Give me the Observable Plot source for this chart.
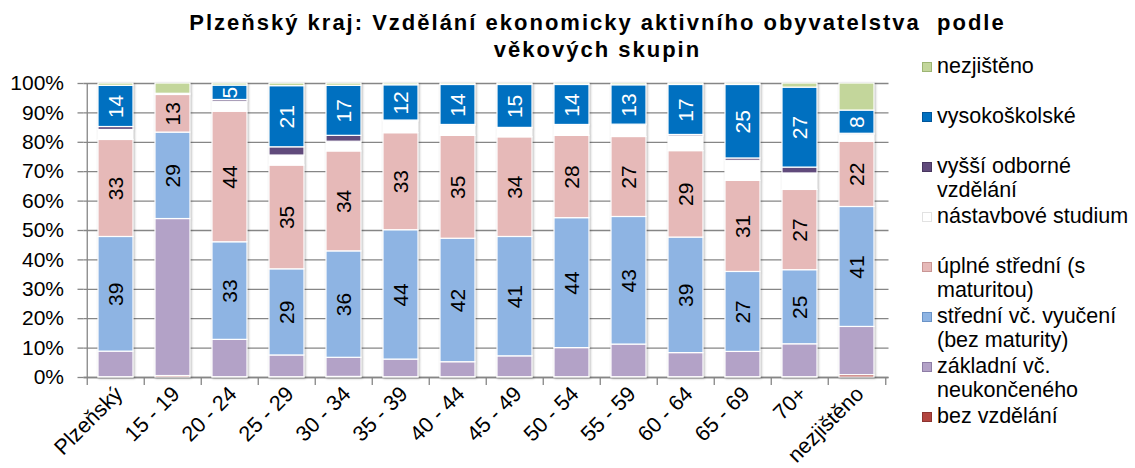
<!DOCTYPE html>
<html><head><meta charset="utf-8">
<script src="https://cdn.jsdelivr.net/npm/d3@7"></script>
<script src="https://cdn.jsdelivr.net/npm/@observablehq/plot@0.6"></script>
<style>
body{margin:0;background:#fff;font-family:"Liberation Sans",Arial,sans-serif;}
#wrap{position:relative;width:1135px;height:468px;overflow:hidden;background:#fff;}
#chart{position:absolute;left:0;top:0;}
#title{position:absolute;left:0;top:9px;width:1195px;text-align:center;font-weight:bold;font-size:22px;line-height:27px;letter-spacing:2px;color:#000;}
#legend{position:absolute;left:922px;top:0;}
.li{position:absolute;left:0;white-space:pre;font-size:21.5px;line-height:24px;color:#000;}
.sw{position:absolute;left:0;top:8px;width:8px;height:8px;border:1px solid;}
.lt{position:absolute;left:15px;top:0;}
g[aria-label="bar"]{filter:drop-shadow(1px 1px 1.2px rgba(0,0,0,0.28));}
</style>
</head><body>
<div id="wrap">
  <div id="chart"></div>
  <div id="title">Plzeňský kraj: Vzdělání ekonomicky aktivního obyvatelstva&nbsp; podle<br>věkových skupin</div>
  <div id="legend"></div>
</div>
<script>
// ---- data ----
const titleText = "Plzeňský kraj: Vzdělání ekonomicky aktivního obyvatelstva podle věkových skupin";
const categories = ["Plzeňský","15 - 19","20 - 24","25 - 29","30 - 34","35 - 39","40 - 44","45 - 49","50 - 54","55 - 59","60 - 64","65 - 69","70+","nezjištěno"];
// series, stacked bottom -> top
const seriesNames = ["bez vzdělání","základní vč. neukončeného","střední vč. vyučení (bez maturity)","úplné střední (s maturitou)","nástavbové studium","vyšší odborné vzdělání","vysokoškolské","nezjištěno"];
const legendLabels = ["bez vzdělání","základní vč.\nneukončeného","střední vč. vyučení\n(bez maturity)","úplné střední (s\nmaturitou)","nástavbové studium","vyšší odborné\nvzdělání","vysokoškolské","nezjištěno"];
const bezVzdelani    = [0.1, 0.5, 0.1, 0.1, 0.2, 0.1, 0.1, 0.1, 0.1, 0.1, 0.1, 0.1, 0.1, 0.8];
const zakladni       = [8.7, 53.4, 12.7, 7.4, 6.5, 6.0, 5.1, 7.1, 9.9, 11.1, 8.2, 8.6, 11.2, 16.4];
const stredniVyuceni = [39.0, 29.4, 33.2, 29.3, 36.2, 44.0, 42.0, 40.6, 44.2, 43.4, 39.3, 27.2, 25.2, 40.8];
const uplneStredni   = [33.0, 12.8, 44.4, 35.3, 34.0, 33.0, 35.0, 33.9, 28.0, 27.2, 29.4, 31.0, 27.3, 22.2];
const nastavbove     = [3.4, 0.4, 3.4, 3.4, 3.3, 4.0, 3.5, 3.0, 3.5, 4.0, 5.0, 6.8, 5.6, 2.4];
const vyssiOdborne   = [1.0, 0.0, 0.6, 2.8, 2.0, 0.3, 0.2, 0.2, 0.2, 0.2, 0.5, 0.8, 2.0, 0.3];
const vysokoskolske  = [14.0, 0.0, 4.9, 20.8, 17.0, 12.0, 13.6, 14.6, 13.6, 13.4, 17.0, 25.0, 27.2, 7.9];
const nezjisteno     = [0.8, 3.5, 0.7, 0.9, 0.8, 0.6, 0.5, 0.5, 0.5, 0.6, 0.5, 0.5, 1.4, 9.2];
const yTicks = [0,10,20,30,40,50,60,70,80,90,100];

// ---- styles ----
const seriesColors = ["#B2443F","#B3A2C7","#8EB4E3","#E6B9B8","#FFFFFF","#604A7B","#0070C0","#C3D69B"];
const swatchBorders = ["#8C3330","#8E7DA6","#6A93C7","#C99695","#E2E2E2","#483660","#00559A","#9DB574"];
const labeled = new Set(["střední vč. vyučení (bez maturity)","úplné střední (s maturitou)","vysokoškolské"]);
const FONT = '"Liberation Sans", Arial, sans-serif';

// ---- build stacked rows ----
const seriesValues = [bezVzdelani, zakladni, stredniVyuceni, uplneStredni, nastavbove, vyssiOdborne, vysokoskolske, nezjisteno];
const rows = [];
categories.forEach((cat, i) => {
  const total = d3.sum(seriesValues, s => s[i]);
  let acc = 0;
  seriesNames.forEach((name, k) => {
    const v = seriesValues[k][i] / total * 100;
    rows.push({cat, series: name, value: seriesValues[k][i], y1: acc, y2: acc + v, mid: acc + v / 2});
    acc += v;
  });
});
const labelRows = rows.filter(r => labeled.has(r.series) && r.value >= 1);
const whiteLabels = labelRows.filter(r => r.series === "vysokoškolské");
const blackLabels = labelRows.filter(r => r.series !== "vysokoškolské");

const W = 1135, H = 468, ML = 83.5, MR = 246.5, MT = 83, MB = 91;
const step = (W - ML - MR) / categories.length;
const GRAY = "#868686";

const chart = Plot.plot({
  width: W, height: H,
  marginLeft: ML, marginRight: MR, marginTop: MT, marginBottom: MB,
  style: {fontFamily: FONT, fontSize: "21px", color: "#000", background: "transparent"},
  x: {domain: categories, paddingInner: 0.39, paddingOuter: 0.195, label: null, axis: null},
  y: {domain: [0, 100], label: null, axis: null},
  color: {domain: seriesNames, range: seriesColors},
  marks: [
    Plot.gridY(yTicks, {stroke: GRAY, strokeOpacity: 1, strokeWidth: 1.3}),
    Plot.ruleX([categories[0]], {y1: 0, y2: 100, dx: -step / 2, stroke: GRAY, strokeWidth: 1.3}),
    Plot.ruleY([0], {stroke: GRAY, strokeWidth: 1.3}),
    Plot.axisY({ticks: yTicks, tickSize: 6, tickPadding: 14, tickFormat: d => d + "%", stroke: GRAY, strokeWidth: 1.3, fill: "#000", fontSize: 21, label: null}),
    Plot.axisX({tickSize: 8, tickFormat: () => "", dx: -step / 2, stroke: GRAY, strokeWidth: 1.3, label: null}),
    Plot.axisX({ticks: [categories[categories.length - 1]], tickSize: 8, tickFormat: () => "", dx: step / 2, stroke: GRAY, strokeWidth: 1.3, label: null}),
    Plot.axisX({tickSize: 0, tickPadding: 13, tickRotate: -45, dx: 3, fill: "#000", fontSize: 21.5, label: null}),
    Plot.barY(rows, {x: "cat", y1: "y1", y2: "y2", fill: "series", stroke: "white", strokeWidth: 1.2}),
    Plot.text(blackLabels, {x: "cat", y: "mid", text: d => String(Math.round(d.value)), rotate: -90, fill: "#000", fontSize: 21}),
    Plot.text(whiteLabels, {x: "cat", y: "mid", text: d => String(Math.round(d.value)), rotate: -90, fill: "#fff", fontSize: 21})
  ]
});
document.getElementById("chart").appendChild(chart);

// ---- legend (top to bottom = reverse stack order) ----
const legend = document.getElementById("legend");
const order = d3.range(seriesNames.length).reverse();
order.forEach((k, slot) => {
  const item = document.createElement("div");
  item.className = "li";
  item.style.top = (53.5 + slot * 50) + "px";
  const sw = document.createElement("div");
  sw.className = "sw";
  sw.style.background = seriesColors[k];
  sw.style.borderColor = swatchBorders[k];
  const t = document.createElement("div");
  t.className = "lt";
  t.textContent = legendLabels[k];
  item.appendChild(sw); item.appendChild(t);
  legend.appendChild(item);
});
</script>
</body></html>
